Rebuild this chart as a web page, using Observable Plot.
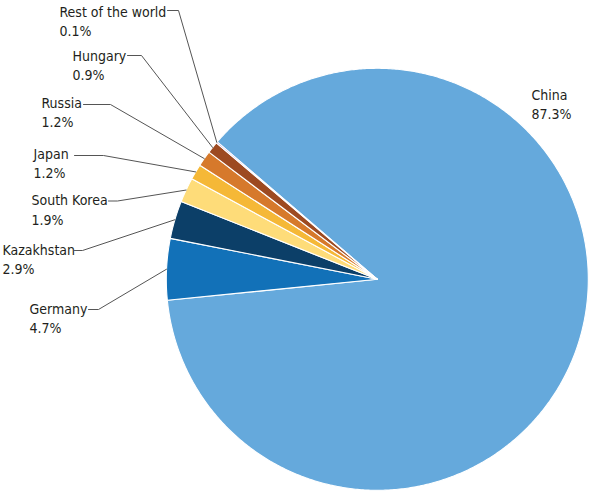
<!DOCTYPE html>
<html>
<head>
<meta charset="utf-8">
<script src="https://cdn.jsdelivr.net/npm/d3@7"></script>
<script src="https://cdn.jsdelivr.net/npm/@observablehq/plot@0.6"></script>
<style>
  html, body { margin: 0; padding: 0; background: #fff; }
  #chart svg { display: block; }
</style>
</head>
<body>
<div id="chart"></div>
<script>
// ---- data ----
const countries = ["China", "Germany", "Kazakhstan", "South Korea", "Japan", "Russia", "Hungary", "Rest of the world"];
const shares    = [87.3, 4.7, 2.9, 1.9, 1.2, 1.2, 0.9, 0.1];
const colors    = ["#65a9dc", "#1271b8", "#0c3f68", "#fedc79", "#f5b837", "#d6792b", "#9d4a21", "#8a6cc0"];

// ---- layout (pixels) ----
const W = 590, H = 492;
const cx = 376.8, cy = 278.8, R = 211;
const startDeg = 310.65;
// label layout: [text x, text middle y, leader start x, elbow x, leader y]
const labelLayout = {
  "Rest of the world": [59, 19.5, 167, 178, 10],
  "Hungary":           [72, 64, 127, 141, 55],
  "Russia":            [41, 111, 83, 110, 104],
  "Japan":             [33, 162, 74, 103, 155],
  "South Korea":       [31, 208.3, 108, 117, 200.5],
  "Kazakhstan":        [2, 258, 74, 82, 250],
  "Germany":           [29, 316.7, 88, 98, 309],
  "China":             [531, 102.7, null, null, null]
};

const pie = d3.pie().sort(null)
  .startAngle(startDeg * Math.PI / 180)
  .endAngle(startDeg * Math.PI / 180 + 2 * Math.PI);
const arcs = pie(shares);

const px = a => cx + R * Math.sin(a);
const py = a => cy - R * Math.cos(a);

// slice polygons
const slicePts = [];
arcs.forEach((a, i) => {
  const name = countries[i];
  slicePts.push({name, x: cx, y: cy});
  const n = Math.max(2, Math.ceil((a.endAngle - a.startAngle) / (Math.PI / 360)));
  for (let k = 0; k <= n; k++) {
    const t = a.startAngle + (a.endAngle - a.startAngle) * k / n;
    slicePts.push({name, x: px(t), y: py(t)});
  }
  slicePts.push({name, x: cx, y: cy});
});

// labels & leader lines
const labels = countries.map((c, i) => {
  const L = labelLayout[c];
  return {name: c, x: L[0], y: L[1], text: `${c}\n${shares[i].toFixed(1)}%`};
});
const leaders = [];
arcs.forEach((a, i) => {
  const c = countries[i];
  const L = labelLayout[c];
  if (L[2] == null) return;
  const mid = (a.startAngle + a.endAngle) / 2;
  leaders.push({name: c, x: L[2], y: L[4]});
  leaders.push({name: c, x: L[3], y: L[4]});
  leaders.push({name: c, x: px(mid), y: py(mid)});
});

const font = `"DejaVu Sans Condensed", "Liberation Sans Narrow", sans-serif`;

const chart = Plot.plot({
  width: W, height: H,
  margin: 0,
  x: {domain: [0, W], range: [0, W], axis: null},
  y: {domain: [0, H], range: [0, H], axis: null},
  color: {domain: countries, range: colors},
  style: {fontFamily: font, background: "#fff"},
  marks: [
    Plot.line(slicePts, {x: "x", y: "y", z: "name", fill: "name", stroke: "#fff", strokeWidth: 1.1, curve: "linear"}),
    Plot.line(leaders, {x: "x", y: "y", z: "name", stroke: "#555", strokeWidth: 1, curve: "linear"}),
    Plot.text(labels, {x: "x", y: "y", text: "text", textAnchor: "start", lineAnchor: "middle", lineHeight: 1.39, fontSize: 14, fill: "#231f20", fontFamily: font})
  ]
});
document.getElementById("chart").appendChild(chart);
</script>
</body>
</html>
